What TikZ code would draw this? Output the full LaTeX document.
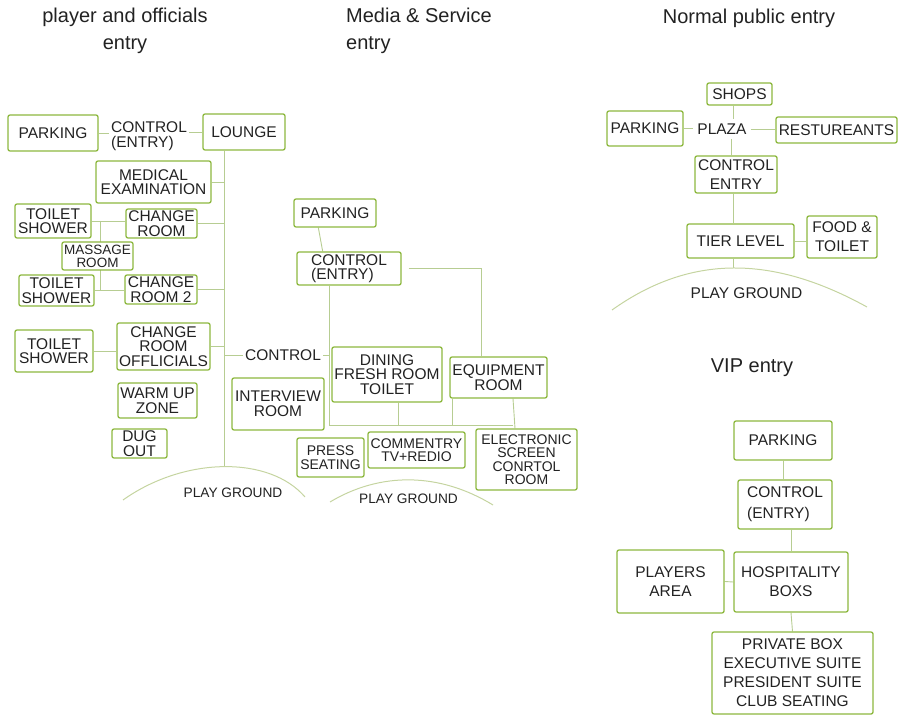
\documentclass[tikz,border=0pt]{standalone}
\usepackage{fontspec}
\setmainfont{Liberation Sans}
\usepackage{tikz}
\usetikzlibrary{backgrounds,calc}
\definecolor{bxgreen}{HTML}{8DB83F}
\definecolor{lngreen}{HTML}{B7CD92}
\definecolor{pgline}{HTML}{C5D4A0}
\definecolor{txdark}{HTML}{222222}

\begin{document}
\begin{tikzpicture}[x=1pt,y=-1pt,
    box/.style={rounded corners=2pt,draw=bxgreen,line width=1.3pt,fill=white,
                align=center,inner sep=1pt,text=txdark,font=\fontsize{15.5}{14.6}\selectfont},
    roomy/.style={font=\fontsize{15.5}{19}\selectfont},
    smtext/.style={font=\fontsize{14}{13.4}\selectfont},
    lbl/.style={inner sep=2pt,text=txdark,align=center,font=\fontsize{15.5}{14.6}\selectfont},
    gtext/.style={inner sep=1pt,text=txdark,font=\fontsize{13.7}{13}\selectfont},
    head/.style={text=txdark,align=center,font=\fontsize{20}{27}\selectfont},
    link/.style={draw=lngreen,line width=0.9pt},
    ground/.style={draw=pgline,line width=1pt}]
  \useasboundingbox (0,0) rectangle (906,719);

  \node[head] (hdA) at (125,31) {player and officials\\entry};
  \node[head,align=left] (hdB) at (419,31) {Media \& Service\\entry};
  \node[head] (hdC) at (749,18) {Normal public entry};
  \node[head] (hdD) at (752,368) {VIP entry};

  % player and officials
  \node[box,minimum width=90pt,minimum height=36pt] (pkA) at (53,133) {PARKING};
  \node[lbl,align=left] (ctlA) at (149,136) {CONTROL\\(ENTRY)};
  \node[box,minimum width=82pt,minimum height=36pt] (lounge) at (244,132) {LOUNGE};
  \node[box,minimum width=115pt,minimum height=42pt] (medic) at (153.5,182) {MEDICAL\\EXAMINATION};
  \node[box,minimum width=76pt,minimum height=34pt] (tsA) at (53,221) {TOILET\\SHOWER};
  \node[box,minimum width=71pt,minimum height=29pt] (crA) at (161.5,223.5) {CHANGE\\ROOM};
  \node[box,minimum width=71pt,minimum height=28pt,font=\fontsize{13.5}{12.8}\selectfont] (massage) at (97.5,256) {MASSAGE\\ROOM};
  \node[box,minimum width=75pt,minimum height=31pt] (tsB) at (56.5,290.5) {TOILET\\SHOWER};
  \node[box,minimum width=72pt,minimum height=29pt] (crB) at (161,289.5) {CHANGE\\ROOM 2};
  \node[box,minimum width=78pt,minimum height=42pt] (tsC) at (54,351) {TOILET\\SHOWER};
  \node[box,minimum width=93pt,minimum height=47pt] (crC) at (163.5,346.5) {CHANGE\\ROOM\\OFFLICIALS};
  \node[box,minimum width=79pt,minimum height=35pt] (warmup) at (157.5,400.5) {WARM UP\\ZONE};
  \node[box,minimum width=55pt,minimum height=29pt] (dugout) at (139.5,443.5) {DUG\\OUT};
  \node[lbl] (ctlB) at (283,355) {CONTROL};
  \node[box,minimum width=92pt,minimum height=52pt] (intview) at (278,404) {INTERVIEW\\ROOM};
  \draw[ground] (123,500) .. controls (185,456) and (270,456) .. (305,497) coordinate[pos=0.5] (pgA);
  \node[gtext] (pgAtxt) at (233,493) {PLAY GROUND};

  % media and service
  \node[box,minimum width=82pt,minimum height=28pt] (pkB) at (335,213) {PARKING};
  \node[box,align=left,minimum width=104pt,minimum height=33pt] (ctlC) at (349,268.5) {CONTROL\\(ENTRY)};
  \node[box,minimum width=110pt,minimum height=55pt] (dining) at (387,374.5) {DINING\\FRESH ROOM\\TOILET};
  \node[box,minimum width=97pt,minimum height=41pt] (equip) at (498.5,377.5) {EQUIPMENT\\ROOM};
  \node[box,smtext,minimum width=67pt,minimum height=39pt] (press) at (330.5,457.5) {PRESS\\SEATING};
  \node[box,smtext,minimum width=97pt,minimum height=36pt] (comm) at (416.5,450) {COMMENTRY\\TV+REDIO};
  \node[box,smtext,minimum width=101pt,minimum height=61pt] (elec) at (526.5,459.5) {ELECTRONIC\\SCREEN\\CONRTOL\\ROOM};
  \coordinate (busL) at (329,425);
  \coordinate (busR) at (513,425);
  \draw[ground] (330,502) .. controls (380,472) and (439,472) .. (493,505) coordinate[pos=0.5] (pgB);
  \node[gtext] (pgBtxt) at (408.5,499) {PLAY GROUND};

  % normal public
  \node[box,minimum width=65pt,minimum height=22pt] (shops) at (739.5,94) {SHOPS};
  \node[box,minimum width=76pt,minimum height=35pt] (pkC) at (645,128.5) {PARKING};
  \node[lbl,inner sep=4pt] (plaza) at (722,129) {PLAZA};
  \node[box,minimum width=121pt,minimum height=26pt] (rest) at (836.5,130) {RESTUREANTS};
  \node[box,roomy,minimum width=82pt,minimum height=37pt] (ctlD) at (736,174.5) {CONTROL\\ENTRY};
  \node[box,minimum width=107pt,minimum height=34pt] (tier) at (740.5,241) {TIER LEVEL};
  \node[box,roomy,minimum width=70pt,minimum height=42pt] (food) at (842,237) {FOOD \&\\TOILET};
  \draw[ground] (612,310) .. controls (690,254.5) and (772,254.5) .. (867,307) coordinate[pos=0.5] (pgC);
  \node[gtext,font=\fontsize{15.5}{13}\selectfont] (pgCtxt) at (746.5,293) {PLAY GROUND};

  % vip
  \node[box,minimum width=98pt,minimum height=39pt] (pkD) at (783,440.5) {PARKING};
  \node[box,roomy,align=left,font=\fontsize{15.5}{21}\selectfont,minimum width=94pt,minimum height=49pt] (ctlE) at (785,504.5) {CONTROL\\(ENTRY)};
  \node[box,roomy,minimum width=107pt,minimum height=63pt] (players) at (670.5,581.5) {PLAYERS\\AREA};
  \node[box,roomy,minimum width=114pt,minimum height=60pt] (hosp) at (791,582) {HOSPITALITY\\BOXS};
  \node[box,roomy,minimum width=161pt,minimum height=82pt] (privbox) at (792.5,673) {PRIVATE BOX\\EXECUTIVE SUITE\\PRESIDENT SUITE\\CLUB SEATING};

  \begin{scope}[on background layer]
    \draw[link] (pkA.east) -- (pkA.east -| ctlA.west);
    \draw[link] (ctlA.east |- lounge.west) -- (lounge.west);
    \draw[link] (lounge.south -| pgA) -- (pgA);
    \draw[link] (medic.east) -- (medic.east -| pgA);
    \draw[link] (crA.east) -- (crA.east -| pgA);
    \draw[link] (crB.east) -- (crB.east -| pgA);
    \draw[link] (crC.east) -- (crC.east -| pgA);
    \draw[link] (tsA.east) -- (tsA.east -| crA.west);
    \draw[link] (tsB.east) -- (tsB.east -| crB.west);
    \draw[link] (tsC.east) -- (tsC.east -| crC.west);
    \draw[link] ([xshift=3pt]tsA.east -| massage.north) -- ([xshift=3pt]tsB.east -| massage.north);
    \draw[link] (ctlB.west -| pgA) -- (ctlB.west);
    \draw[link] (ctlB.east) -- (ctlB.east -| busL);

    \draw[link] ($(pkB.south west)!0.3!(pkB.south east)$) -- ($(ctlC.north west)!0.25!(ctlC.north east)$);
    \draw[link] ([xshift=7pt]ctlC.east) -| ([xshift=-17.5pt]equip.north);
    \draw[link] (ctlC.south -| busL) -- (busL) -- (busR);
    \draw[link] ([xshift=11pt]dining.south) -- ([xshift=11pt]dining.south |- busL);
    \draw[link] ([xshift=-46.5pt]equip.south) -- ([xshift=-46.5pt]equip.south |- busL);
    \draw[link] ([xshift=14.5pt]equip.south) -- ([xshift=-11.5pt]elec.north);

    \draw[link] ([xshift=-6.5pt]shops.south) -- ([xshift=11pt]plaza.north);
    \draw[link] ([xshift=9pt]plaza.south) -- ([xshift=-5pt]ctlD.north);
    \draw[link] (pkC.east) -- (pkC.east -| plaza.west);
    \draw[link] (plaza.east) -- (plaza.east -| rest.west);
    \draw[link] ([xshift=-3pt]ctlD.south) -- ([xshift=-3pt]ctlD.south |- tier.north);
    \draw[link] (tier.east) -- (tier.east -| food.west);
    \draw[link] (tier.south -| pgC) -- (pgC);

    \draw[link] (pkD.south) -- (pkD.south |- ctlE.north);
    \draw[link] (hosp.north |- ctlE.south) -- (hosp.north);
    \draw[link] (players.east) -- (hosp.west);
    \draw[link] (hosp.south) -- (privbox.north);
  \end{scope}
\end{tikzpicture}
\end{document}
